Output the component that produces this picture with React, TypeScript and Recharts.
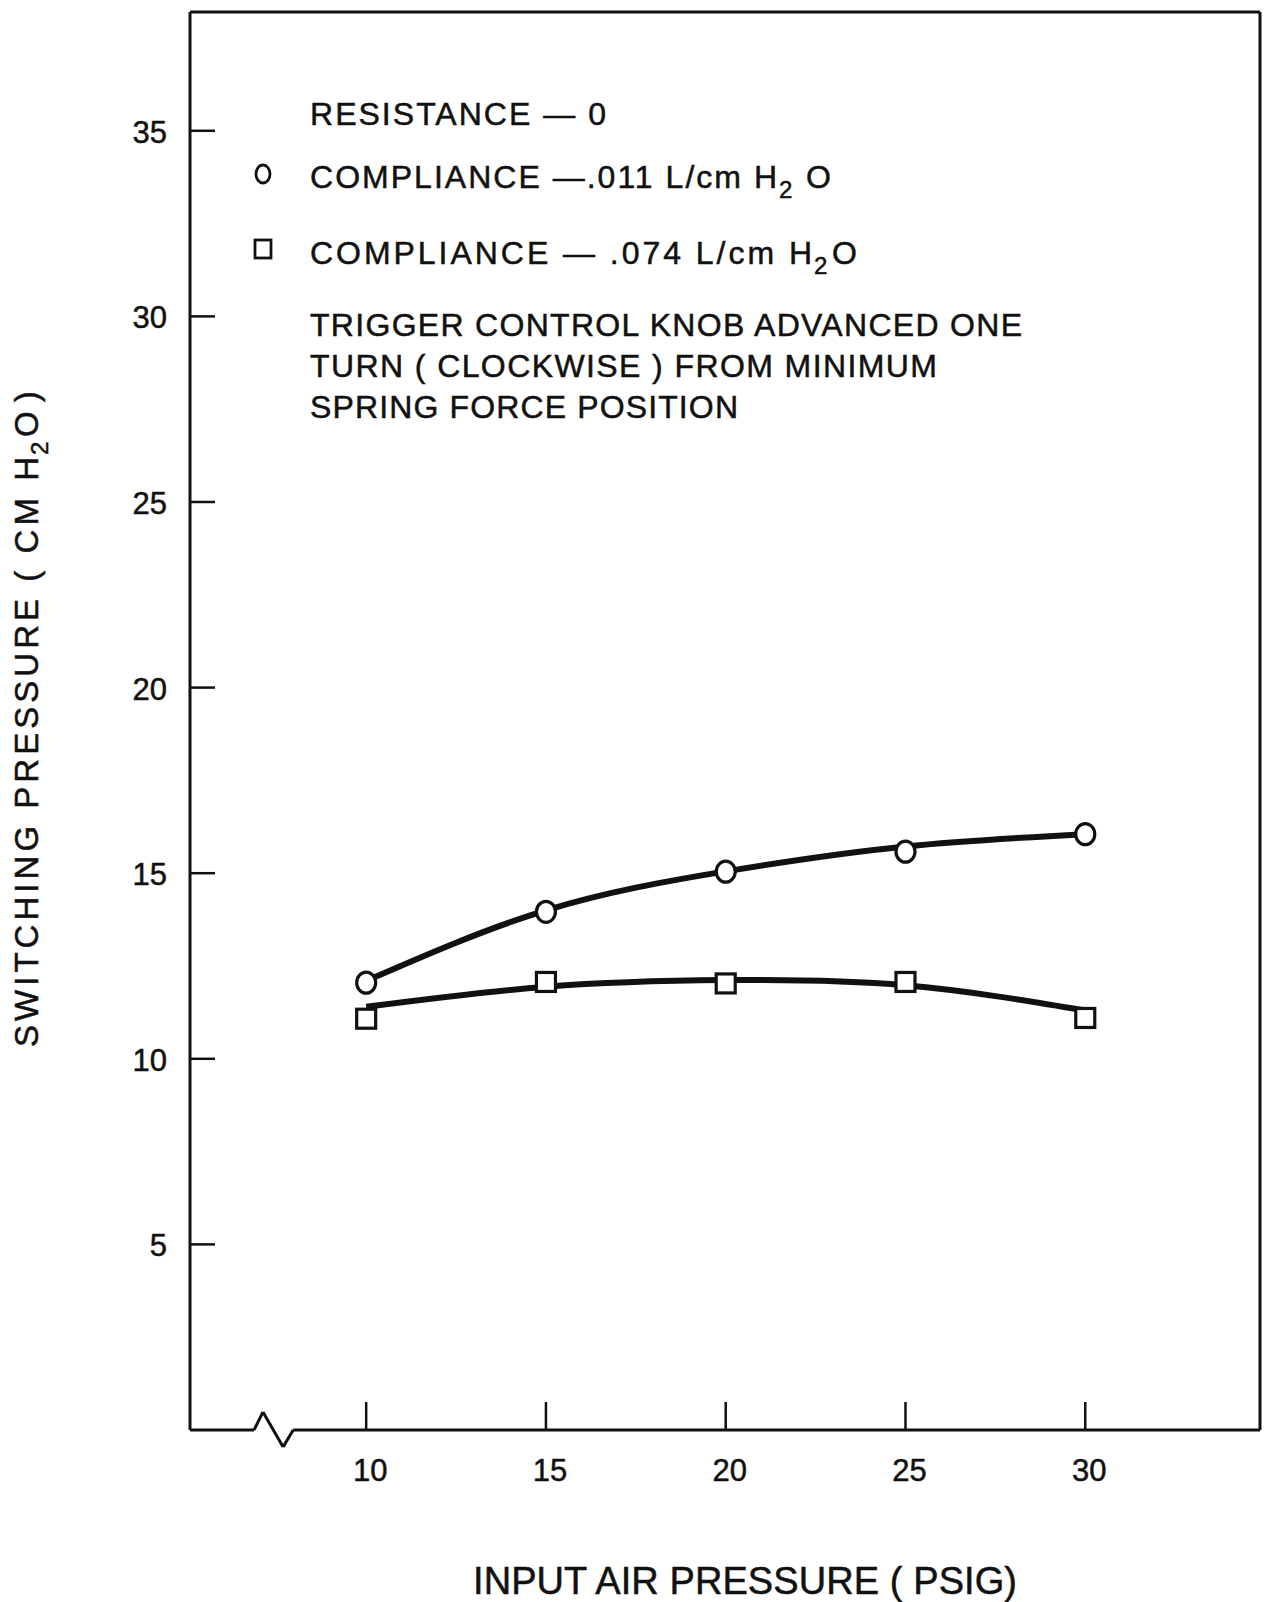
import {
  ComposedChart,
  Customized,
  Line,
  ReferenceLine,
  Scatter,
  XAxis,
  YAxis,
} from "recharts";

// input air pressure (psig)
const PSIG = [10, 15, 20, 25, 30];
// measured switching pressure, cm H2O
const LOW_COMPLIANCE = [12.05, 13.96, 15.04, 15.58, 16.05]; // circles, .011 L/cm H2O
const HIGH_COMPLIANCE = [11.08, 12.07, 12.03, 12.07, 11.1]; // squares, .074 L/cm H2O
// hand-drawn fitted curves
const LOW_FIT = [12.1, 14.0, 15.05, 15.72, 16.05];
const HIGH_FIT = [11.4, 11.94, 12.12, 11.98, 11.3];

const Y_TICKS = [5, 10, 15, 20, 25, 30, 35];
const X_DOMAIN = [5.1, 34.86];
const Y_DOMAIN = [0, 38.2];
// broken x axis (zigzag near the origin)
const AXIS_BREAK = [
  [5.1, 0],
  [6.88, 0],
  [7.13, 0.485],
  [7.69, -0.46],
  [7.97, 0],
  [34.86, 0],
];

const INK = "#111";
const FONT = "'Liberation Sans', Arial, sans-serif";
const HEAVY = { stroke: INK, strokeWidth: 0.5 };

const fits = PSIG.map((x, i) => ({ x, low: LOW_FIT[i], high: HIGH_FIT[i] }));
const lowPts = PSIG.map((x, i) => ({ x, y: LOW_COMPLIANCE[i] }));
const highPts = PSIG.map((x, i) => ({ x, y: HIGH_COMPLIANCE[i] }));

function XTick(props: any) {
  const { x, y, payload } = props;
  return (
    <g>
      <line x1={x} x2={x} y1={y} y2={y - 28} stroke={INK} strokeWidth={2.5} />
      <text x={x + 4} y={y + 51} textAnchor="middle" fontSize={31} fontFamily={FONT} fill={INK} {...HEAVY}>
        {payload.value}
      </text>
    </g>
  );
}

function YTick(props: any) {
  const { x, y, payload } = props;
  return (
    <g>
      <line x1={x} x2={x + 25} y1={y} y2={y} stroke={INK} strokeWidth={2.5} />
      <text x={x - 23} y={y + 12} textAnchor="end" fontSize={31} fontFamily={FONT} fill={INK} {...HEAVY}>
        {payload.value}
      </text>
    </g>
  );
}

const circleShape = (p: any) => (
  <ellipse cx={p.cx} cy={p.cy} rx={9.5} ry={10.5} fill="#fff" stroke={INK} strokeWidth={3.2} />
);
const squareShape = (p: any) => (
  <rect x={p.cx - 9.5} y={p.cy - 9.5} width={19} height={19} fill="#fff" stroke={INK} strokeWidth={3.2} />
);

function Notes() {
  const t = { fontFamily: FONT, fontSize: 32, fill: INK, ...HEAVY };
  const sub = { fontFamily: FONT, fontSize: 24, fill: INK, ...HEAVY };
  return (
    <g>
      <text {...t} x={310} y={125} textLength={296} lengthAdjust="spacing">
        RESISTANCE — 0
      </text>

      <ellipse cx={263} cy={174} rx={7} ry={9} fill="none" stroke={INK} strokeWidth={2.8} />
      <text {...t} x={310} y={188} textLength={467} lengthAdjust="spacing">
        COMPLIANCE —.011 L/cm H
      </text>
      <text {...sub} x={779} y={198}>2</text>
      <text {...t} x={806} y={188}>O</text>

      <rect x={255} y={240} width={16} height={18} fill="none" stroke={INK} strokeWidth={2.8} />
      <text {...t} x={310} y={264} textLength={502} lengthAdjust="spacing">
        COMPLIANCE — .074 L/cm H
      </text>
      <text {...sub} x={814} y={274}>2</text>
      <text {...t} x={832} y={264}>O</text>

      <text {...t} x={310} y={336} textLength={712} lengthAdjust="spacing">
        TRIGGER CONTROL KNOB ADVANCED ONE
      </text>
      <text {...t} x={310} y={377} textLength={627} lengthAdjust="spacing">
        TURN ( CLOCKWISE ) FROM MINIMUM
      </text>
      <text {...t} x={310} y={418} textLength={428} lengthAdjust="spacing">
        SPRING FORCE POSITION
      </text>

      <text
        fontFamily={FONT}
        fontSize={38}
        fill={INK}
        {...HEAVY}
        x={473}
        y={1594}
        textLength={544}
        lengthAdjust="spacing"
      >
        INPUT AIR PRESSURE ( PSIG)
      </text>

      <g transform="translate(38, 1047) rotate(-90)">
        <text fontFamily={FONT} fontSize={33} fill={INK} {...HEAVY} x={0} y={0} textLength={590} lengthAdjust="spacing">
          SWITCHING PRESSURE ( CM H
        </text>
        <text fontFamily={FONT} fontSize={24} fill={INK} {...HEAVY} x={592} y={10}>2</text>
        <text fontFamily={FONT} fontSize={33} fill={INK} {...HEAVY} x={610} y={0}>O )</text>
      </g>
    </g>
  );
}

export default function App() {
  return (
    <div style={{ position: "absolute", left: 0, top: 0, background: "#fff" }}>
      <ComposedChart
        width={1268}
        height={1602}
        data={fits}
        margin={{ top: 12, right: 8, bottom: 0, left: 0 }}
      >
        <XAxis
          type="number"
          dataKey="x"
          domain={X_DOMAIN}
          ticks={PSIG}
          allowDataOverflow
          height={172}
          axisLine={false}
          tickLine={false}
          tickSize={0}
          tickMargin={0}
          tick={<XTick />}
        />
        <YAxis
          type="number"
          domain={Y_DOMAIN}
          ticks={Y_TICKS}
          allowDataOverflow
          width={190}
          axisLine={{ stroke: INK, strokeWidth: 3 }}
          tickLine={false}
          tickSize={0}
          tickMargin={0}
          tick={<YTick />}
        />
        <ReferenceLine y={Y_DOMAIN[1]} stroke={INK} strokeWidth={3} ifOverflow="visible" />
        <ReferenceLine x={X_DOMAIN[1]} stroke={INK} strokeWidth={3} ifOverflow="visible" />
        {AXIS_BREAK.slice(1).map((p, i) => (
          <ReferenceLine
            key={i}
            segment={[
              { x: AXIS_BREAK[i][0], y: AXIS_BREAK[i][1] },
              { x: p[0], y: p[1] },
            ]}
            stroke={INK}
            strokeWidth={3}
            ifOverflow="visible"
          />
        ))}
        <Line
          type="natural"
          dataKey="low"
          stroke={INK}
          strokeWidth={6}
          dot={false}
          activeDot={false}
          isAnimationActive={false}
        />
        <Line
          type="natural"
          dataKey="high"
          stroke={INK}
          strokeWidth={6}
          dot={false}
          activeDot={false}
          isAnimationActive={false}
        />
        <Scatter data={lowPts} dataKey="y" shape={circleShape} isAnimationActive={false} />
        <Scatter data={highPts} dataKey="y" shape={squareShape} isAnimationActive={false} />
        <Customized component={<Notes />} />
      </ComposedChart>
    </div>
  );
}
